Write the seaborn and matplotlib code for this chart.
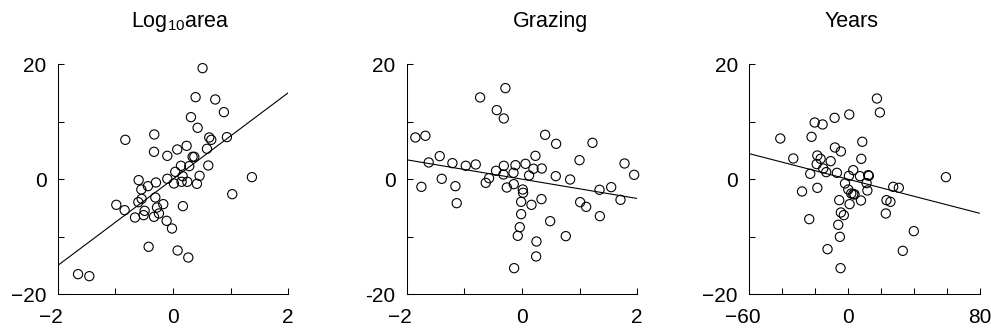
import matplotlib
matplotlib.use("Agg")
import matplotlib.pyplot as plt
from matplotlib.transforms import ScaledTranslation
import numpy as np
import pandas as pd
import seaborn as sns

# Partial residuals of species richness against each predictor
area_x = [0.514, 0.393, 0.734, 0.884, 0.312, 0.428, -0.324, -0.827, 0.630, 0.665,
          0.936, -0.329, 0.075, 0.237, -0.098, 0.590, 0.341, 0.370, 0.283, 0.139,
          0.613, 0.040, 0.168, 0.462, 1.370, -0.098, -0.595, -0.295, -0.434, 0.017,
          0.150, 0.249, 0.416, -0.549, 1.029, -0.543, -0.306, -0.601, -0.983, -0.168,
          0.173, -0.838, -0.277, -0.491, -0.509, -0.243, -0.659, -0.329, -0.110, -0.017,
          -0.422, 0.081, 0.266, -1.647, -1.451]
area_y = [19.28, 14.24, 13.84, 11.64, 10.77, 8.92, 7.76, 6.83, 7.24, 6.83,
          7.30, 4.75, 5.15, 5.79, 4.05, 5.27, 3.88, 3.88, 2.26, 2.32,
          2.37, 1.27, 0.52, 0.58, 0.35, 0.06, -0.17, -0.58, -1.22, -0.75,
          -0.46, -0.46, -0.81, -1.80, -2.61, -3.42, -3.18, -4.00, -4.46, -4.34,
          -4.69, -5.39, -4.92, -5.50, -6.25, -5.96, -6.66, -6.54, -7.24, -8.57,
          -11.75, -12.39, -13.61, -16.50, -16.85]

grazing_x = [-0.287, -0.726, -0.437, -0.315, -1.850, -1.676, 0.402, 0.593, 1.224, -1.618,
             -1.427, -1.207, -0.975, -0.802, -0.315, -0.113, 0.061, 0.234, 0.200, 0.344,
             0.999, 1.780, 1.947, -0.449, -0.321, -0.147, 0.124, 0.587, 0.836, -1.392,
             -0.570, -0.628, -1.745, -1.155, -0.263, -0.142, 0.014, 0.020, 1.346, 1.549,
             -1.132, -0.014, 0.165, 0.339, 1.010, 1.114, 1.710, -0.014, 0.489, 1.352,
             -0.038, -0.072, 0.761, 0.252, 0.246, -0.136]
grazing_y = [15.81, 14.19, 11.99, 10.54, 7.24, 7.53, 7.70, 6.14, 6.31, 2.90,
             4.00, 2.78, 2.32, 2.55, 2.32, 2.43, 2.66, 4.05, 1.80, 1.85,
             3.30, 2.72, 0.75, 1.45, 0.81, 1.10, 0.64, 0.52, -0.06, 0.06,
             0.17, -0.64, -1.33, -1.22, -1.45, -0.87, -1.80, -2.37, -1.85, -1.39,
             -4.17, -3.94, -4.46, -3.47, -4.00, -4.81, -3.59, -6.08, -7.30, -6.43,
             -8.34, -9.84, -9.90, -10.83, -13.43, -15.46]

years_x = [17.7, 19.5, 0.9, -8.0, -20.1, -15.3, -41.0, -22.0, 8.8, -7.8,
           -4.2, -33.1, -18.5, -16.5, -18.9, -10.4, -14.9, -13.1, -6.6, 3.3,
           8.2, -22.8, 0.7, 7.4, 12.4, 12.8, 59.6, -18.5, -1.7, 11.4,
           27.6, 31.0, -27.8, 0.3, 2.1, 3.3, 4.1, 11.9, -5.2, 1.1,
           8.0, 23.5, 25.9, -4.2, -2.4, 23.1, -23.4, -5.8, -4.8, 40.1,
           -12.3, 33.4, -4.4]
years_y = [14.01, 11.58, 11.23, 10.65, 9.84, 9.50, 7.06, 7.35, 6.49, 5.50,
           4.81, 3.59, 4.11, 3.53, 2.61, 3.13, 1.85, 1.22, 1.10, 1.56,
           3.53, 0.93, 0.58, 0.52, 0.69, 0.58, 0.35, -1.51, -0.75, -0.69,
           -1.33, -1.51, -2.14, -1.80, -2.49, -2.61, -2.66, -1.97, -3.65, -4.34,
           -3.71, -3.65, -3.94, -5.79, -6.25, -5.96, -6.95, -7.93, -10.02, -9.03,
           -12.16, -12.45, -15.46]

# Fitted partial regression lines (intercept, slope)
intercepts = [0.0, 0.0, 0.0]
slopes = [7.5, -1.68, -0.074]

titles = ["Log$_{\\mathrm{10}}$area", "Grazing", "Years"]
x_limits = [(-2, 2), (-2, 2), (-60, 80)]
x_ticks = [[-2, -1, 0, 1, 2], [-2, -1, 0, 1, 2], [-60, -40, -20, 0, 20, 40, 60, 80]]
x_ticklabels = [["\u22122", "", "0", "", "2"],
                ["\u22122", "", "0", "", "2"],
                ["\u221260", "", "", "0", "", "", "", "80"]]
y_ticks = [-20, -10, 0, 10, 20]
y_ticklabels = [["\u221220", "", "0", "", "20"],
                ["-20", "", "0", "", "20"],
                ["\u221220", "", "0", "", "20"]]

sns.set_style("ticks")
plt.rcParams["font.family"] = ["Liberation Sans", "DejaVu Sans"]
plt.rcParams["mathtext.fontset"] = "custom"
plt.rcParams["mathtext.rm"] = "Liberation Sans"
plt.rcParams["mathtext.it"] = "Liberation Sans"

W, H = 991, 332
fig = plt.figure(figsize=(W / 100, H / 100), dpi=100)

lefts = [57.7, 406.7, 749.0]
title_centers = [180, 551, 852]
ax_w, ax_h, ax_bottom = 230.5, 230.3, 332 - 294.3

datasets = [(area_x, area_y), (grazing_x, grazing_y), (years_x, years_y)]

for i, (xs, ys) in enumerate(datasets):
    ax = fig.add_axes([lefts[i] / W, ax_bottom / H, ax_w / W, ax_h / H])
    df = pd.DataFrame({"x": xs, "y": ys})
    sns.scatterplot(data=df, x="x", y="y", ax=ax, marker="o", s=44,
                    facecolor="none", edgecolor="black", linewidth=0.8,
                    clip_on=False, zorder=3)
    lo, hi = x_limits[i]
    line = pd.DataFrame({"x": [lo, hi]})
    line["y"] = intercepts[i] + slopes[i] * line["x"]
    sns.lineplot(data=line, x="x", y="y", ax=ax, color="black", linewidth=0.8)

    ax.set_xlim(lo, hi)
    ax.set_ylim(-20, 20)
    ax.set_xticks(x_ticks[i])
    ax.set_xticklabels(x_ticklabels[i])
    ax.set_yticks(y_ticks)
    ax.set_yticklabels(y_ticklabels[i])
    ax.set_xlabel("")
    ax.set_ylabel("")
    ax.tick_params(direction="in", length=4.3, width=0.75, labelsize=15,
                   colors="black")
    ax.tick_params(axis="x", pad=10)
    ax.tick_params(axis="y", pad=8)
    sns.despine(ax=ax)
    for side in ("left", "bottom"):
        ax.spines[side].set_linewidth(0.75)
        ax.spines[side].set_color("black")
    # let the minus sign hang to the left of the digits
    for lab in ax.get_xticklabels():
        if lab.get_text().startswith(("\u2212", "-")):
            lab.set_transform(lab.get_transform() +
                              ScaledTranslation(-0.065, 0, fig.dpi_scale_trans))

    fig.text(title_centers[i] / W, 1 - 26.7 / H, titles[i], ha="center",
             va="baseline", fontsize=15.5, color="black")

fig.savefig("out.png", dpi=100)
